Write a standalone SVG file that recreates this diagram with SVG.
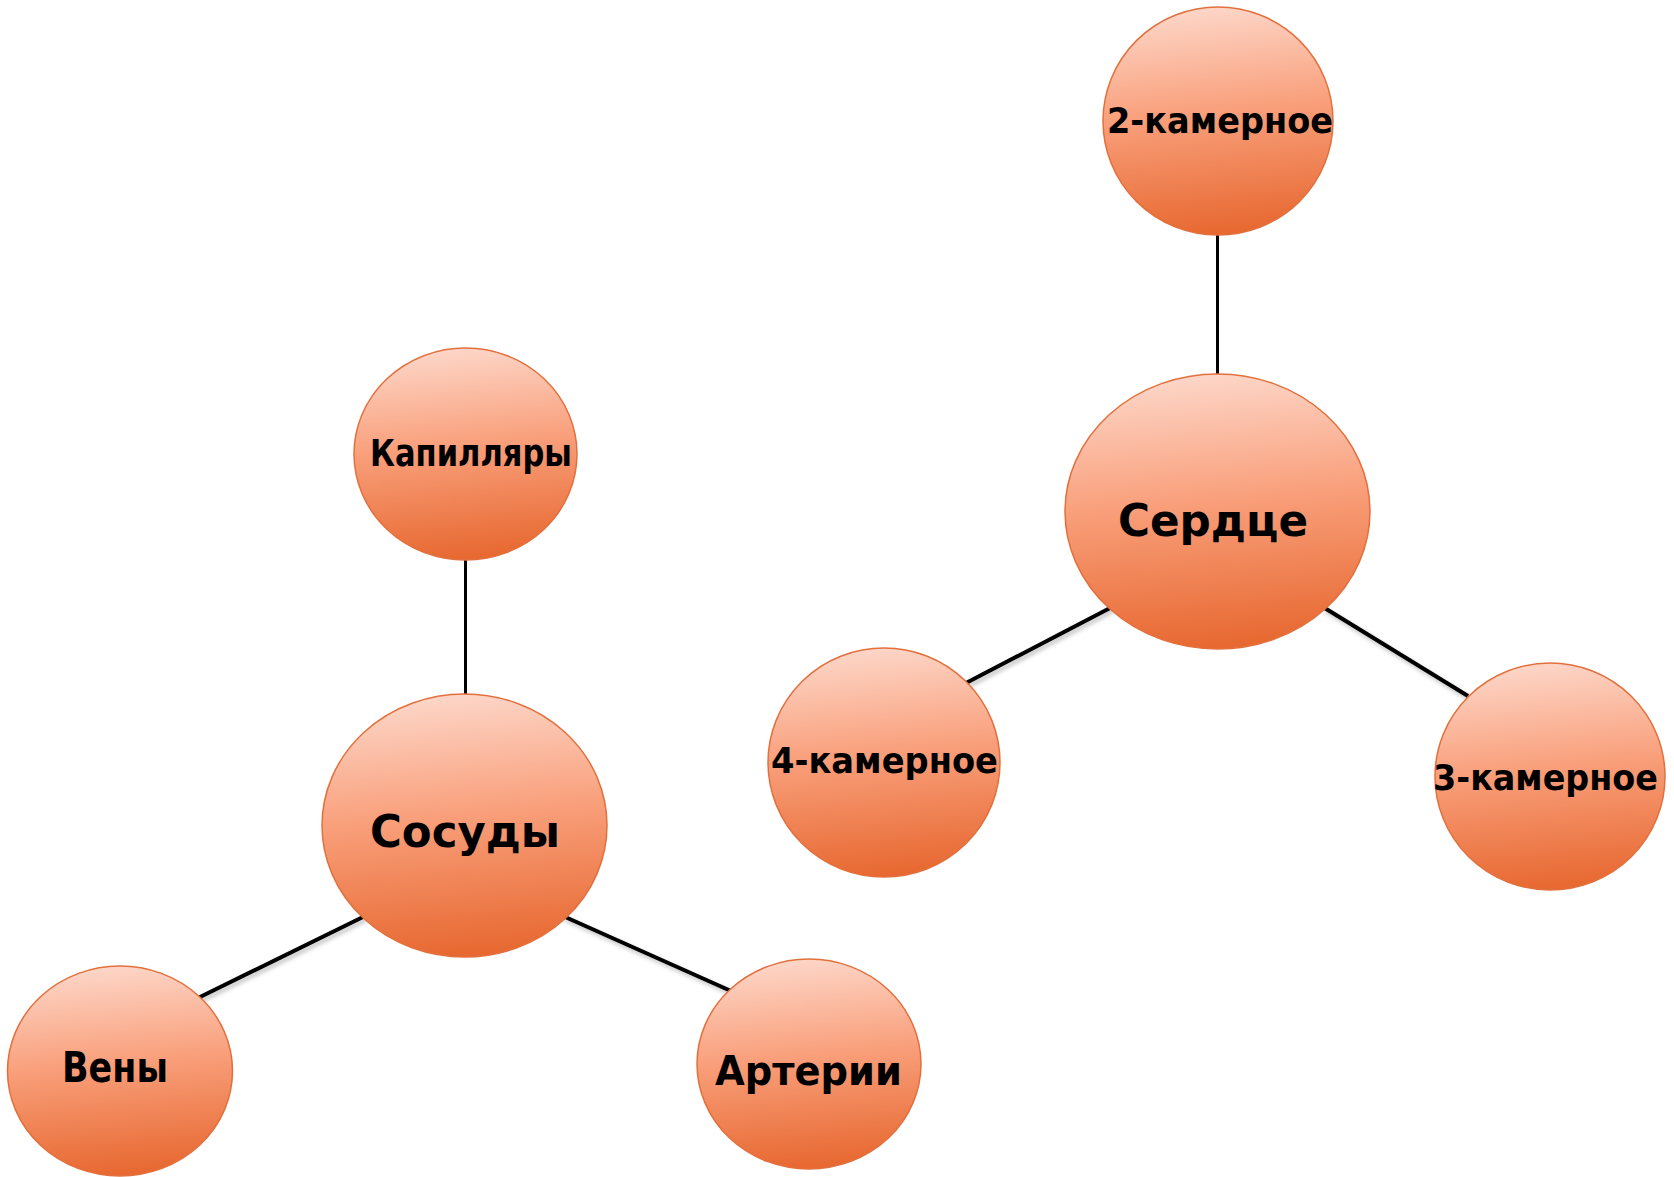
<svg xmlns="http://www.w3.org/2000/svg" width="1674" height="1177" viewBox="0 0 1674 1177">
<style>
.node ellipse { fill: url(#g); stroke: #E2703D; stroke-width: 1.5; }
.node text { font-family: "DejaVu Sans", "Liberation Sans", sans-serif; font-weight: bold; fill: #000; text-anchor: middle; }
.links line { stroke: #000; stroke-width: 4; filter: url(#sh); }
</style>
<defs>
<linearGradient id="g" x1="0.45" y1="0" x2="0.55" y2="1">
<stop offset="0" stop-color="#FDD6C8"/>
<stop offset="0.45" stop-color="#F9A07C"/>
<stop offset="1" stop-color="#E7672F"/>
</linearGradient>
<filter id="sh" x="-20%" y="-20%" width="140%" height="140%">
<feDropShadow dx="2" dy="3" stdDeviation="2" flood-color="#000" flood-opacity="0.25"/>
</filter>
</defs>
<rect width="1674" height="1177" fill="#fff"/>
<g class="links">
<line x1="1218" y1="234" x2="1217" y2="379"/>
<line x1="1112" y1="607" x2="966" y2="683"/>
<line x1="1323" y1="607" x2="1468" y2="696"/>
<line x1="466" y1="559" x2="465" y2="696"/>
<line x1="365" y1="916" x2="198" y2="998"/>
<line x1="563" y1="916" x2="731" y2="991"/>
</g>
<g id="n-2kam" class="node"><ellipse cx="1218" cy="121" rx="115" ry="114"/><text x="1220" y="133" font-size="36" textLength="226" lengthAdjust="spacingAndGlyphs">2-камерное</text></g>
<g id="n-serdce" class="node"><ellipse cx="1217.5" cy="511.5" rx="152.5" ry="137.5"/><text x="1213" y="536" font-size="45" textLength="190" lengthAdjust="spacingAndGlyphs">Сердце</text></g>
<g id="n-4kam" class="node"><ellipse cx="884" cy="762.5" rx="116" ry="114.5"/><text x="884.5" y="773" font-size="36" textLength="227" lengthAdjust="spacingAndGlyphs">4-камерное</text></g>
<g id="n-3kam" class="node"><ellipse cx="1550" cy="776.5" rx="115" ry="113.5"/><text x="1545.5" y="790" font-size="36" textLength="225" lengthAdjust="spacingAndGlyphs">3-камерное</text></g>
<g id="n-kapill" class="node"><ellipse cx="465.5" cy="454" rx="111.5" ry="106"/><text x="471" y="466" font-size="38" textLength="202" lengthAdjust="spacingAndGlyphs">Капилляры</text></g>
<g id="n-sosudy" class="node"><ellipse cx="464.5" cy="825.5" rx="142.5" ry="131.5"/><text x="465" y="847" font-size="45" textLength="190" lengthAdjust="spacingAndGlyphs">Сосуды</text></g>
<g id="n-veny" class="node"><ellipse cx="120" cy="1071" rx="112.5" ry="105"/><text x="115" y="1082" font-size="43" textLength="106" lengthAdjust="spacingAndGlyphs">Вены</text></g>
<g id="n-arterii" class="node"><ellipse cx="809" cy="1064" rx="112" ry="105"/><text x="808.5" y="1085" font-size="41" textLength="187" lengthAdjust="spacingAndGlyphs">Артерии</text></g>
</svg>
